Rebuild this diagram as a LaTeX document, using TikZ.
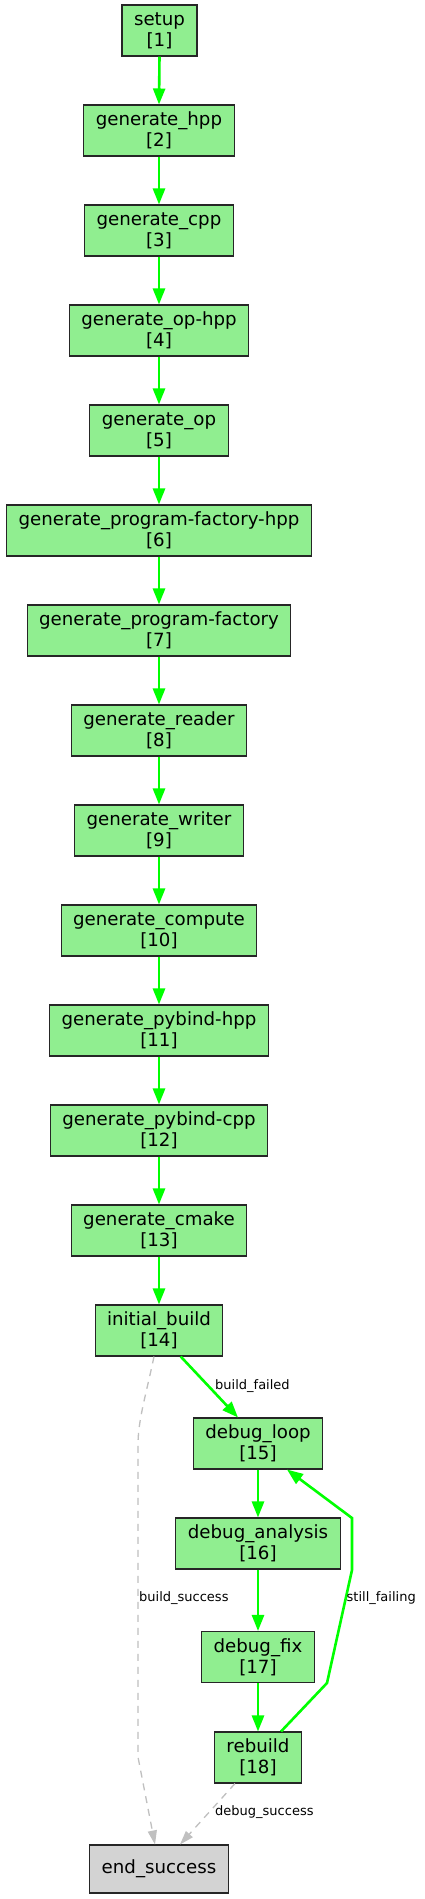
\documentclass[tikz,border=0pt]{standalone}
\usepackage{fontspec}
\setmainfont{DejaVu Sans}
\usetikzlibrary{arrows.meta}
\definecolor{nodegreen}{HTML}{90EE90}
\definecolor{nodegray}{HTML}{D3D3D3}
\definecolor{edgegreen}{HTML}{00FF00}
\definecolor{edgegray}{HTML}{C0C0C0}
\begin{document}
\begin{tikzpicture}[x=1pt,y=-1pt,
  task/.style={draw=black!85, line width=1.05pt, fill=nodegreen, rectangle,
    inner xsep=12pt, inner ysep=0pt, minimum width=75pt, minimum height=51pt,
    align=center, font=\fontsize{18.2}{21}\selectfont},
  endbox/.style={task, fill=nodegray, minimum height=48pt},
  flow/.style={draw=edgegreen, line width=2.6pt,
    -{Triangle[length=16pt,width=12pt]}, edgegreen},
  alt/.style={draw=edgegray, line width=1.3pt, dash pattern=on 7pt off 6pt,
    -{Triangle[length=14pt,width=9pt]}, edgegray},
  elabel/.style={anchor=west, inner sep=0pt, font=\fontsize{13}{15}\selectfont, text=black}]
\useasboundingbox (0,0) rectangle (425,1899);
\fill[white] (0,0) rectangle (425,1899);

\node[task] (n1) at (159.5,30.5) {setup\\{}[1]};
\node[task] (n2) at (159,130.5) {generate\_hpp\\{}[2]};
\node[task] (n3) at (159,230.5) {generate\_cpp\\{}[3]};
\node[task] (n4) at (159,330.5) {generate\_op-hpp\\{}[4]};
\node[task] (n5) at (159,430.5) {generate\_op\\{}[5]};
\node[task] (n6) at (159,530.5) {generate\_program-factory-hpp\\{}[6]};
\node[task] (n7) at (159,630.5) {generate\_program-factory\\{}[7]};
\node[task] (n8) at (159,730.5) {generate\_reader\\{}[8]};
\node[task] (n9) at (159,830.5) {generate\_writer\\{}[9]};
\node[task] (n10) at (159,930.5) {generate\_compute\\{}[10]};
\node[task] (n11) at (159,1030.5) {generate\_pybind-hpp\\{}[11]};
\node[task] (n12) at (159,1130.5) {generate\_pybind-cpp\\{}[12]};
\node[task] (n13) at (159,1230.5) {generate\_cmake\\{}[13]};
\node[task] (n14) at (159,1330.5) {initial\_build\\{}[14]};
\node[task] (n15) at (258,1443.5) {debug\_loop\\{}[15]};
\node[task] (n16) at (258,1543.5) {debug\_analysis\\{}[16]};
\node[task] (n17) at (258,1657) {debug\_fix\\{}[17]};
\node[task] (n18) at (258,1757.5) {rebuild\\{}[18]};
\node[endbox] (end) at (159,1869) {end\_success};

\foreach \a/\b in {n1/n2,n2/n3,n3/n4,n4/n5,n5/n6,n6/n7,n7/n8,n8/n9,n9/n10,n10/n11,n11/n12,n12/n13,n13/n14}
  \draw[flow] (\a.south) -- (\b.north);
\draw[flow] ([xshift=21.7pt]n14.south) -- ([xshift=-20pt]n15.north);
\draw[flow] (n15) -- (n16);
\draw[flow] (n16) -- (n17);
\draw[flow] (n17) -- (n18);
\draw[flow] ([xshift=23pt]n18.north) -- (327,1683) -- (352,1570) -- (352,1518) -- ([xshift=29pt]n15.south);

\draw[alt] ([xshift=-5pt]n14.south) .. controls (146,1395) and (138,1420) .. (138,1445) -- (138,1757) -- ([xshift=-4pt]end.north);
\draw[alt] ([xshift=-23pt]n18.south) -- ([xshift=21pt]end.north);

\node[elabel] (l1) at (215,1386) {build\_failed};
\node[elabel] (l2) at (346.5,1598) {still\_failing};
\node[elabel] (l3) at (139,1598) {build\_success};
\node[elabel] (l4) at (215,1812) {debug\_success};
\end{tikzpicture}
\end{document}
